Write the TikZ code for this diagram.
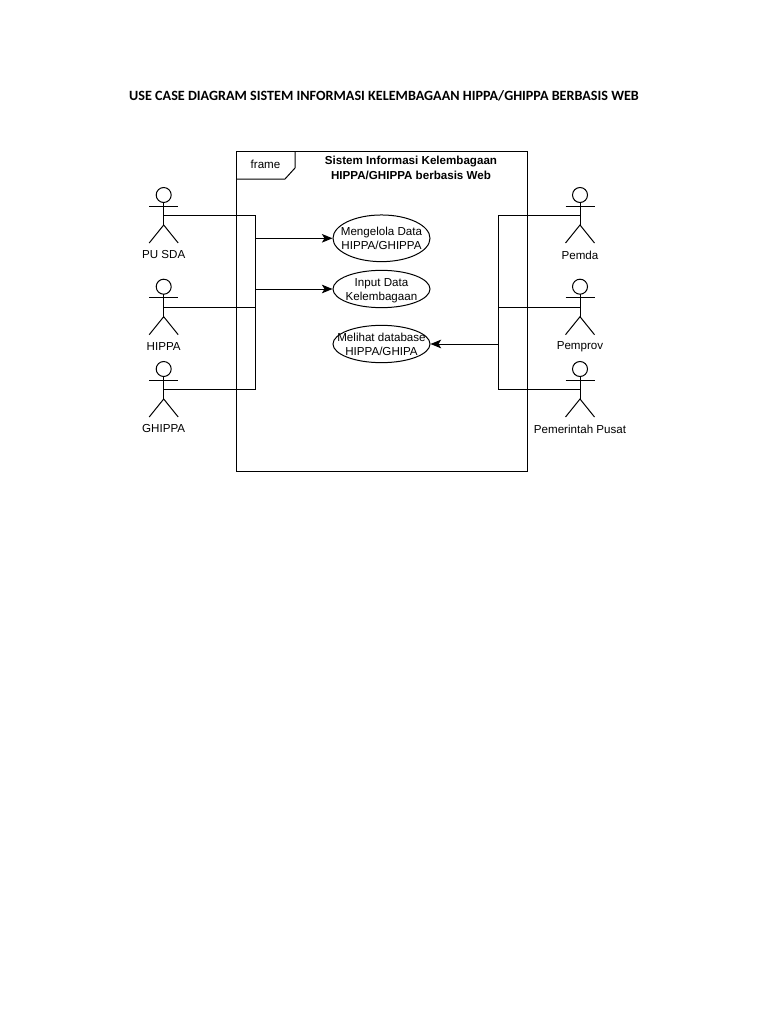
\documentclass[tikz,border=0pt]{standalone}
\usepackage{fontspec}
\setmainfont{Liberation Sans}
\newfontfamily\titlefont{Carlito}
\usetikzlibrary{arrows.meta,shapes.geometric}

\begin{document}
\begin{tikzpicture}[x=0.75pt, y=-0.75pt, line width=0.75pt,
    every node/.style={font=\fontsize{8.7}{10.4}\selectfont, align=center, inner sep=0pt},
    usecase/.style={draw, ellipse, minimum width=72.75pt, minimum height=#1},
    usecase/.default=28pt,
    flow/.style={-{Stealth[length=8pt, width=6.5pt, inset=2pt]}},
    pics/actor/.style={code={
        \draw (0,0) circle (7.5);
        \draw (-14.5,11) -- (14.5,11);
        \draw (0,7.5) -- (0,30);
        \draw (-14.5,48) -- (0,30) -- (14.5,48);
        \coordinate (-waist) at (0,20.7);
        \node (-name) at (0,60) {#1};
    }}]
    \useasboundingbox (0,0) rectangle (768,1024);

    % --- Title ---
    \node[font=\titlefont\bfseries\fontsize{10.6}{12}\selectfont] (title) at (384,95.5) {USE CASE DIAGRAM SISTEM INFORMASI KELEMBAGAAN HIPPA/GHIPPA BERBASIS WEB};

    % --- Frame ---
    \draw (236.7,151.7) rectangle (527.3,471);
    \draw (236.7,179) -- (285,179) -- (295,168) -- (295,151.7);
    \node (framename) at (265.5,164.7) {frame};
    \node[font=\bfseries\fontsize{8.7}{10.7}\selectfont] (systemname) at (411,167.8) {Sistem Informasi Kelembagaan\\HIPPA/GHIPPA berbasis Web};

    % --- Use cases ---
    \node[usecase=35pt, label={center:Mengelola Data\\HIPPA/GHIPPA}] (mengelola) at (381.5,238.3) {};
    \node[usecase, label={[yshift=-1.2pt]center:Input Data\\Kelembagaan}] (input) at (381.5,289) {};
    \node[usecase, label={center:Melihat database\\HIPPA/GHIPA}] (melihat) at (381.5,344) {};

    % --- Actors, left ---
    \pic (pusda) at (163.7,195) {actor={PU SDA}};
    \pic (hippa) at (163.7,286.7) {actor={HIPPA}};
    \pic (ghippa) at (163.7,369) {actor={GHIPPA}};

    % --- Actors, right ---
    \pic (pemda) at (580,195) {actor={Pemda}};
    \pic (pemprov) at (580,286.7) {actor={Pemprov}};
    \pic (pusat) at (580,369) {actor={Pemerintah Pusat}};

    % --- Left bus ---
    \coordinate (busLtop) at (255.7,215.7);
    \coordinate (busLbottom) at (255.7,389.7);
    \draw (pusda-waist) -- (busLtop) -- (busLbottom) -- (ghippa-waist);
    \draw (hippa-waist) -- (hippa-waist -| busLtop);
    \coordinate (busLa) at (busLtop |- mengelola.west);
    \coordinate (busLb) at (busLtop |- input.west);
    \draw[flow] (busLa) -- (mengelola.west);
    \draw[flow] (busLb) -- (input.west);

    % --- Right bus ---
    \coordinate (busRtop) at (498,215.7);
    \coordinate (busRbottom) at (498,389.7);
    \draw (pemda-waist) -- (busRtop) -- (busRbottom) -- (pusat-waist);
    \draw (pemprov-waist) -- (pemprov-waist -| busRtop);
    \coordinate (busRa) at (busRtop |- melihat.east);
    \draw[flow] (busRa) -- (melihat.east);
\end{tikzpicture}
\end{document}
